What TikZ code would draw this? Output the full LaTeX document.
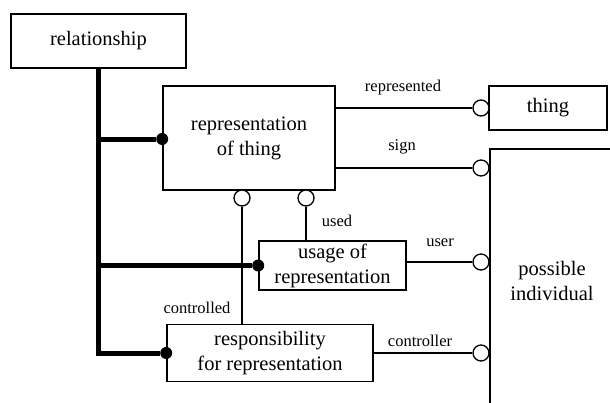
\documentclass[tikz,border=0pt]{standalone}
\usepackage{fontspec}
\setmainfont{Liberation Serif}
\begin{document}
\begin{tikzpicture}[x=1pt,y=-1pt,
  box/.style={draw,line width=1.6pt,inner sep=0pt,align=center,font=\fontsize{20.5}{25}\selectfont},
  thin/.style={line width=1.3pt},
  bus/.style={line width=5pt},
  hollow/.style={circle,draw,fill=white,line width=1.3pt,minimum size=16pt,inner sep=0pt},
  dot/.style={circle,fill=black,minimum size=12pt,inner sep=0pt},
  lbl/.style={font=\fontsize{16.5}{19}\selectfont,inner sep=0pt}]
\useasboundingbox (0,0) rectangle (610,402);
\clip (0,0) rectangle (610,402);
% boxes
\node[box,minimum width=175pt,minimum height=54pt] (rel) at (98.5,41) {relationship};
\node[box,minimum width=172pt,minimum height=104pt] (rot) at (249,138) {representation\\of thing};
\node[box,minimum width=118pt,minimum height=44pt] (thing) at (548,108) {thing};
\node[box,minimum width=160pt,minimum height=270pt,anchor=north west] (pi) at (489,148) {};
\node[font=\fontsize{20.5}{25}\selectfont,align=center] (pitext) at (552,281) {possible\\individual};
\node[box,minimum width=147pt,minimum height=49pt] (usage) at (332.5,265.5) {usage of\\representation};
\node[box,minimum width=206pt,minimum height=57pt] (resp) at (270,353) {responsibility\\for representation};
% dots
\node[dot] (d1) at (rot.west |- 0,139) {};
\node[dot] (d2) at (usage.west) {};
\node[dot] (d3) at (resp.west) {};
% bus
\draw[bus] (rel.south) -- (rel.south |- d3) -- (d3);
\draw[bus] (rel.south |- d1) -- (d1);
\draw[bus] (rel.south |- d2) -- (d2);
% hollow circles
\node[hollow] (c1) at (481,108) {};
\node[hollow] (c2) at (481,168) {};
\node[hollow] (c3) at (242,198) {};
\node[hollow] (c4) at (306,198) {};
\node[hollow] (c5) at (481,262) {};
\node[hollow] (c6) at (481,353) {};
% connectors
\draw[thin] (rot.east |- c1) -- (c1);
\draw[thin] (rot.east |- c2) -- (c2);
\draw[thin] (c3) -- (c3 |- resp.north);
\draw[thin] (c4) -- (c4 |- usage.north);
\draw[thin] (usage.east |- c5) -- (c5);
\draw[thin] (resp.east |- c6) -- (c6);
% labels
\node[lbl] (l1) at (403,88) {represented};
\node[lbl] (l2) at (402,147) {sign};
\node[lbl] (l3) at (337,221) {used};
\node[lbl] (l4) at (440,243) {user};
\node[lbl] (l5) at (197,308) {controlled};
\node[lbl] (l6) at (420,341) {controller};
\end{tikzpicture}
\end{document}
